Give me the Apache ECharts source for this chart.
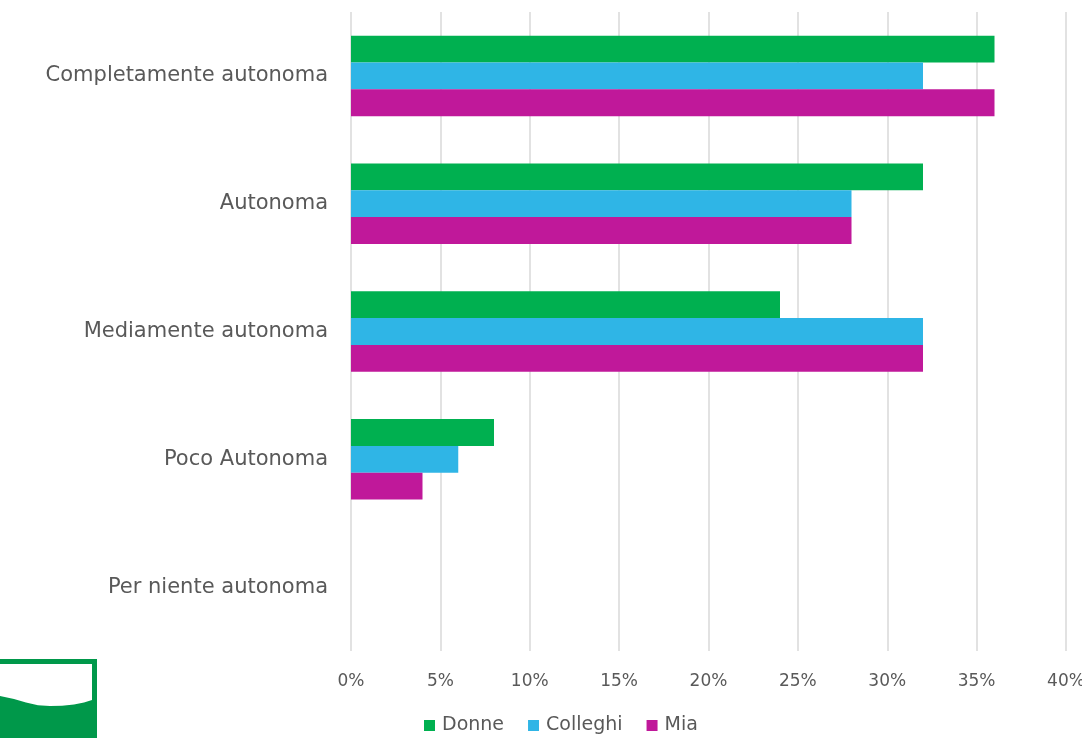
<!DOCTYPE html>
<html>
<head>
<meta charset="utf-8">
<script src="https://cdn.jsdelivr.net/npm/echarts@6/dist/echarts.min.js"></script>
<style>
  html, body { margin: 0; padding: 0; background: #fff; }
  #chart { width: 1082px; height: 738px; }
</style>
</head>
<body>
<div id="chart"></div>
<script>
// Livello di autonomia percepita
const categories = ['Completamente autonoma', 'Autonoma', 'Mediamente autonoma', 'Poco Autonoma', 'Per niente autonoma'];
const donne = [36, 32, 24, 8, 0];
const colleghi = [32, 28, 32, 6, 0];
const mia = [36, 28, 32, 4, 0];
const xTicks = { min: 0, max: 40, interval: 5 };

const FONT = '"DejaVu Sans"';
const TEXT = '#595959';

// Onda bianca del logo in basso a sinistra
const wave = [[0, 664], [92, 664], [92, 700], [84, 702.5], [74, 704.5], [62, 705.8], [50, 706], [38, 705.2], [26, 702.5], [14, 699], [0, 696]];

const chart = echarts.init(document.getElementById('chart'));
chart.setOption({
  animation: false,
  textStyle: { fontFamily: FONT },
  grid: { left: 351, right: 16, top: 12, bottom: 87, containLabel: false, outerBoundsMode: 'none' },
  legend: {
    bottom: -2,
    left: 419,
    icon: 'rect',
    itemWidth: 11,
    itemHeight: 11,
    itemGap: 24,
    textStyle: { color: TEXT, fontSize: 19, fontFamily: FONT, padding: [0, 0, 0, 2] },
    data: ['Donne', 'Colleghi', 'Mia']
  },
  xAxis: {
    type: 'value',
    min: xTicks.min,
    max: xTicks.max,
    interval: xTicks.interval,
    axisLine: { show: false },
    axisTick: { show: false },
    axisLabel: { color: TEXT, fontSize: 17, margin: 22, formatter: '{value}%' },
    splitLine: { lineStyle: { color: '#d9d9d9', width: 1.5 } }
  },
  yAxis: {
    type: 'category',
    inverse: true,
    data: categories,
    axisLine: { show: false },
    axisTick: { show: false },
    axisLabel: { color: TEXT, fontSize: 21, margin: 23 }
  },
  series: [
    { name: 'Donne', type: 'bar', data: donne, itemStyle: { color: '#00b050' }, barGap: '0%', barCategoryGap: '37%' },
    { name: 'Colleghi', type: 'bar', data: colleghi, itemStyle: { color: '#2fb5e6' } },
    { name: 'Mia', type: 'bar', data: mia, itemStyle: { color: '#c0189a' } }
  ],
  graphic: [
    { type: 'rect', shape: { x: 0, y: 659, width: 97, height: 79 }, style: { fill: '#00984a' } },
    { type: 'polygon', shape: { points: wave }, style: { fill: '#ffffff' } }
  ]
});
</script>
</body>
</html>
